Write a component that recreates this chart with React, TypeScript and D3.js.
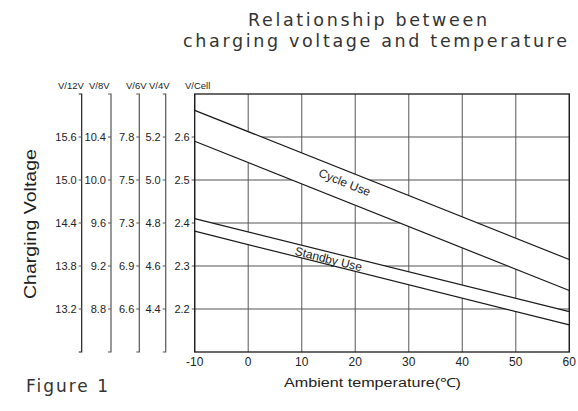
import React from "react";
import * as d3 from "d3";

// ---- data ----
const temps = [-10, 60];
const cycleUpper = [2.662, 2.315];
const cycleLower = [2.59, 2.243];
const standbyUpper = [2.41, 2.194];
const standbyLower = [2.381, 2.163];

const xTicks = [-10, 0, 10, 20, 30, 40, 50, 60];
const cellTicks = [2.2, 2.3, 2.4, 2.5, 2.6];
const v12Labels = ["13.2", "13.8", "14.4", "15.0", "15.6"];
const v8Labels = ["8.8", "9.2", "9.6", "10.0", "10.4"];
const v6Labels = ["6.6", "6.9", "7.3", "7.5", "7.8"];
const v4Labels = ["4.4", "4.6", "4.8", "5.0", "5.2"];
const cellLabels = ["2.2", "2.3", "2.4", "2.5", "2.6"];
const axisNames = ["V/12V", "V/8V", "V/6V", "V/4V", "V/Cell"];
const bandNames = ["Cycle Use", "Standby Use"];
const bandLabelTemps = [18, 15];

// ---- layout ----
const W = 578;
const H = 411;
const plotLeft = 194.7;
const plotRight = 569.3;
const plotTop = 94;
const plotBottom = 352;
const sideAxisX = [81.7, 111, 139.3, 165.7, plotLeft];
const headerX = [58, 89, 126, 149, 185];
const FONT = "'Liberation Sans', Arial, sans-serif";

export default function App() {
  const x = d3.scaleLinear().domain([-10, 60]).range([plotLeft, plotRight]);
  const y = d3.scaleLinear().domain([2.1, 2.7]).range([plotBottom, plotTop]);

  const pts = (vals: number[]) => temps.map((t, i) => [t, vals[i]] as [number, number]);
  const line = d3
    .line<[number, number]>()
    .x((d) => x(d[0]))
    .y((d) => y(d[1]));
  const band = (up: number[], lo: number[]) =>
    d3
      .area<number>()
      .x((_, i) => x(temps[i]))
      .y0((_, i) => y(lo[i]))
      .y1((_, i) => y(up[i]))(temps.map((_, i) => i)) || "";

  const interp = (vals: number[], t: number) =>
    vals[0] + ((vals[1] - vals[0]) * (t - temps[0])) / (temps[1] - temps[0]);

  const bands = [
    { up: cycleUpper, lo: cycleLower, dy: -3 },
    { up: standbyUpper, lo: standbyLower, dy: 1 },
  ];

  const sideLabels = [v12Labels, v8Labels, v6Labels, v4Labels, cellLabels];

  return (
    <svg
      width={W}
      height={H}
      style={{ position: "absolute", left: 0, top: 0, background: "#fff" }}
      fontFamily={FONT}
    >
      <rect x={0} y={0} width={W} height={H} fill="#fff" />
      {/* title */}
      <text
        x={367.5}
        y={26}
        textAnchor="middle"
        fontSize={17.5}
        fill="#333"
        fontFamily="'DejaVu Sans', sans-serif"
        textLength={239}
        lengthAdjust="spacing"
      >
        Relationship between
      </text>
      <text
        x={375}
        y={47}
        textAnchor="middle"
        fontSize={17.5}
        fill="#333"
        fontFamily="'DejaVu Sans', sans-serif"
        textLength={384}
        lengthAdjust="spacing"
      >
        charging voltage and temperature
      </text>

      {/* grid */}
      {xTicks.map((t) => (
        <line key={"vx" + t} x1={x(t)} x2={x(t)} y1={plotTop} y2={plotBottom} stroke="#666" strokeWidth={1.1} />
      ))}
      {cellTicks.map((v) => (
        <line key={"hy" + v} x1={plotLeft - 3} x2={plotRight} y1={y(v)} y2={y(v)} stroke="#555" strokeWidth={1.1} />
      ))}

      {/* bands masking grid */}
      {bands.map((b, i) => (
        <path key={"band" + i} d={band(b.up, b.lo)} fill="#fff" />
      ))}
      {bands.map((b, i) => (
        <g key={"lines" + i}>
          <path d={line(pts(b.up)) || ""} fill="none" stroke="#1a1a1a" strokeWidth={1.2} />
          <path d={line(pts(b.lo)) || ""} fill="none" stroke="#1a1a1a" strokeWidth={1.2} />
        </g>
      ))}

      {/* band labels */}
      {bands.map((b, i) => {
        const t = bandLabelTemps[i];
        const cx = x(t);
        const cy = (y(interp(b.up, t)) + y(interp(b.lo, t))) / 2 + b.dy;
        const slope =
          (y(interp(b.up, temps[1])) - y(interp(b.up, temps[0]))) / (x(temps[1]) - x(temps[0]));
        const ang = (Math.atan(slope) * 180) / Math.PI;
        return (
          <text
            key={"bl" + i}
            x={cx}
            y={cy}
            textAnchor="middle"
            dominantBaseline="central"
            fontSize={12}
            fill="#222"
            transform={`rotate(${ang},${cx},${cy})`}
          >
            {bandNames[i]}
          </text>
        );
      })}

      {/* plot border */}
      <rect
        x={plotLeft}
        y={plotTop}
        width={plotRight - plotLeft}
        height={plotBottom - plotTop}
        fill="none"
        stroke="#1a1a1a"
        strokeWidth={1.3}
      />

      {/* side axes */}
      {sideAxisX.map((ax, i) => (
        <g key={"ax" + i}>
          {i < 4 && (
            <path
              d={`M${ax - 3},${plotTop}H${ax}V${plotBottom}H${ax - 3}`}
              fill="none"
              stroke={i === 0 ? "#222" : "#555"}
              strokeWidth={1.2}
            />
          )}
          {cellTicks.map((v, j) => (
            <g key={j}>
              {i < 4 && <line x1={ax - 3} x2={ax} y1={y(v)} y2={y(v)} stroke="#555" strokeWidth={1} />}
              <text
                x={ax - 5}
                y={y(v)}
                textAnchor="end"
                dominantBaseline="central"
                fontSize={11}
                fill="#222"
              >
                {sideLabels[i][j]}
              </text>
            </g>
          ))}
          <text x={headerX[i]} y={89} fontSize={9.5} fill="#222">
            {axisNames[i]}
          </text>
        </g>
      ))}

      {/* x ticks */}
      {xTicks.map((t) => (
        <text key={"xt" + t} x={x(t)} y={366} textAnchor="middle" fontSize={12} fill="#222">
          {t}
        </text>
      ))}

      {/* axis titles */}
      <text
        transform={`translate(36,224) rotate(-90)`}
        textAnchor="middle"
        fontSize={17}
        fill="#222"
        textLength={150}
        lengthAdjust="spacingAndGlyphs"
      >
        Charging Voltage
      </text>
      <text
        x={372.5}
        y={387}
        textAnchor="middle"
        fontSize={12.5}
        fill="#222"
        textLength={177}
        lengthAdjust="spacingAndGlyphs"
      >
        Ambient temperature(℃)
      </text>
      <text
        x={26}
        y={392}
        fontSize={17}
        fill="#333"
        fontFamily="'DejaVu Sans', sans-serif"
        textLength={82}
        lengthAdjust="spacing"
      >
        Figure 1
      </text>
    </svg>
  );
}
